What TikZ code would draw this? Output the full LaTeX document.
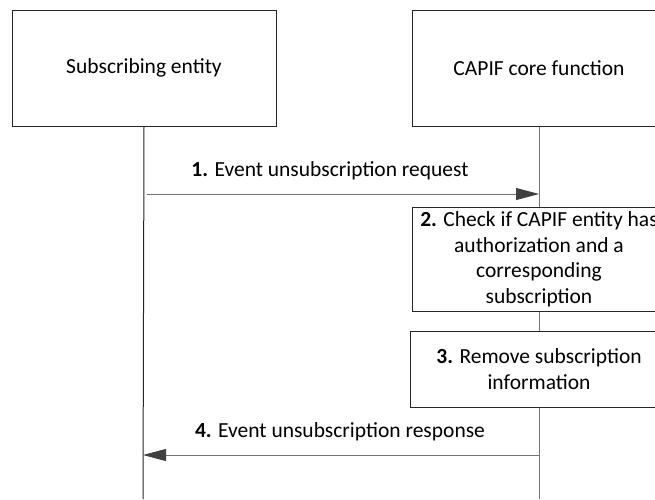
\documentclass[tikz,border=0pt]{standalone}
\usepackage{fontspec}
\setmainfont{Carlito}
\usetikzlibrary{arrows.meta}
\begin{document}
\begin{tikzpicture}[x=1pt,y=-1pt,
  box/.style={draw=black!85, line width=1pt, fill=white, align=center,
    font=\fontsize{21.5}{25.5}\selectfont, inner sep=0pt},
  life/.style={draw=black!55, line width=1pt},
  msg/.style={draw=black!55, line width=0.9pt,
    -{Triangle[length=23pt,width=12pt,color=black!75]}},
  lbl/.style={font=\fontsize{21.5}{25}\selectfont, inner sep=0pt}
]
\useasboundingbox (0,0) rectangle (655,499);
\clip (0,0) rectangle (655,499);

\node[box, minimum width=264pt, minimum height=116pt] (se) at (144,68) {Subscribing entity};
\node[box, minimum width=254pt, minimum height=116pt] (cc) at (539,68) {CAPIF core function};

\node[box, minimum width=254pt, minimum height=104pt] (b2) at (539,259.5)
  {\textbf{2.} Check if CAPIF entity has\\authorization and a\\corresponding\\subscription};
\node[box, minimum width=258pt, minimum height=76pt] (b3) at (539,369)
  {\textbf{3.} Remove subscription\\information};

\coordinate (lend) at (143,499);
\coordinate (rend) at (539,499);
\draw[life, draw=black!85] (se.south) -- (lend);
\draw[life] (cc.south) -- (b2.north);
\draw[life] (b2.south) -- (b3.north);
\draw[life] (b3.south) -- (rend);

\coordinate (m1s) at (147,194);
\coordinate (m1e) at (539,194);
\draw[msg] (m1s) -- (m1e);
\node[lbl] (t1) at (330,171) {\textbf{1.} Event unsubscription request};

\coordinate (m4s) at (539,455);
\coordinate (m4e) at (143,455);
\draw[msg] (m4s) -- (m4e);
\node[lbl] (t4) at (340,432) {\textbf{4.} Event unsubscription response};
\end{tikzpicture}
\end{document}
